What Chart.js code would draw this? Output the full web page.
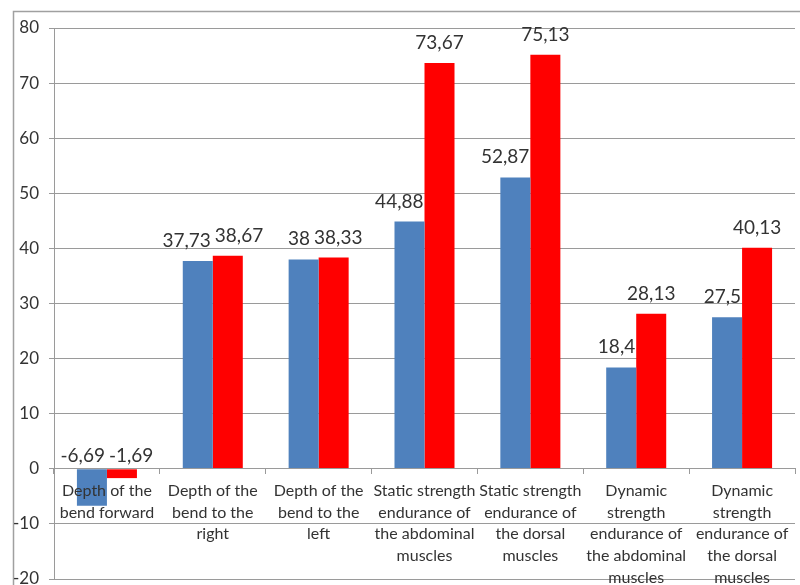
<!DOCTYPE html>
<html>
<head>
<meta charset="utf-8">
<script src="https://cdn.jsdelivr.net/npm/chart.js@4"></script>
<style>
  html, body { margin: 0; padding: 0; background: #fff; overflow: hidden; }
  #wrap { width: 800px; height: 585px; position: relative; }
</style>
</head>
<body>
<div id="wrap"><canvas id="c"></canvas></div>
<script>
// Test categories (multi-line labels)
const categories = [
  ['Depth of the', 'bend forward'],
  ['Depth of the', 'bend to the', 'right'],
  ['Depth of the', 'bend to the', 'left'],
  ['Static strength', 'endurance of', 'the abdominal', 'muscles'],
  ['Static strength', 'endurance of', 'the dorsal', 'muscles'],
  ['Dynamic', 'strength', 'endurance of', 'the abdominal', 'muscles'],
  ['Dynamic', 'strength', 'endurance of', 'the dorsal', 'muscles']
];

// Two measurement series
const seriesBlue = [-6.69, 37.73, 38, 44.88, 52.87, 18.4, 27.5];
const seriesRed  = [-1.69, 38.67, 38.33, 73.67, 75.13, 28.13, 40.13];

// Value axis
const yMin = -20;
const yMax = 80;
const yStep = 10;

const FONT = 'Lato, "Open Sans", sans-serif';
const TEXT = '#333333';
const GRID = '#9a9a9a';

function fmt(v) {
  return String(v).replace('.', ',');
}

// Thin frame around the whole chart
const framePlugin = {
  id: 'frame',
  beforeDraw(chart) {
    const ctx = chart.ctx;
    ctx.save();
    ctx.strokeStyle = '#a0a0a0';
    ctx.lineWidth = 1.5;
    ctx.strokeRect(13.5, 11.5, 900, 900);
    ctx.restore();
  }
};

// Value labels above each bar, nudged sideways so they don't collide
const valueLabels = {
  id: 'valueLabels',
  afterDatasetsDraw(chart) {
    const ctx = chart.ctx;
    const y = chart.scales.y;
    const m0 = chart.getDatasetMeta(0);
    const m1 = chart.getDatasetMeta(1);
    const CAP = 14;
    const PAD = 4;
    ctx.save();
    ctx.font = '19px ' + FONT;
    ctx.fillStyle = TEXT;
    ctx.textAlign = 'center';
    ctx.textBaseline = 'alphabetic';
    for (let i = 0; i < categories.length; i++) {
      const b = m0.data[i], r = m1.data[i];
      const v0 = seriesBlue[i], v1 = seriesRed[i];
      const t0 = fmt(v0), t1 = fmt(v1);
      const w0 = ctx.measureText(t0).width;
      const w1 = ctx.measureText(t1).width;
      const top0 = y.getPixelForValue(Math.max(v0, 0));
      const top1 = y.getPixelForValue(Math.max(v1, 0));
      const base0 = top0 - (v0 < 0 ? 7 : 14);
      const base1 = top1 - (v1 < 0 ? 7 : 14);
      let c0 = b.x, c1 = r.x;
      if (top1 < base0) c0 = Math.min(c0, r.x - r.width / 2 - 1 - w0 / 2);
      if (top0 < base1) c1 = Math.max(c1, b.x + b.width / 2 + 1 + w1 / 2);
      if (Math.abs(base0 - base1) < CAP) {
        const ov = (c0 + w0 / 2 + PAD) - (c1 - w1 / 2);
        if (ov > 0) { c0 -= ov / 2; c1 += ov / 2; }
      }
      ctx.fillText(t0, c0, base0);
      ctx.fillText(t1, c1, base1);
    }
    ctx.restore();
  }
};

new Chart(document.getElementById('c'), {
  type: 'bar',
  data: {
    labels: categories,
    datasets: [
      { data: seriesBlue, backgroundColor: '#4f81bd', borderWidth: 0 },
      { data: seriesRed, backgroundColor: '#ff0000', borderWidth: 0 }
    ]
  },
  options: {
    responsive: true,
    maintainAspectRatio: false,
    animation: false,
    events: [],
    layout: { padding: { top: 28, bottom: 6, left: 0, right: 5 } },
    datasets: { bar: { categoryPercentage: 0.567, barPercentage: 1 } },
    plugins: {
      legend: { display: false },
      title: { display: false },
      tooltip: { enabled: false }
    },
    scales: {
      x: {
        type: 'category',
        position: { y: 0 },
        grid: {
          drawOnChartArea: false,
          drawTicks: true,
          tickLength: 5,
          color: GRID,
          offset: true
        },
        border: { display: true, color: GRID, width: 1, z: 1 },
        ticks: {
          z: 1,
          color: TEXT,
          font: { family: FONT, size: 16, lineHeight: 1.36 },
          padding: 6,
          maxRotation: 0,
          minRotation: 0,
          autoSkip: false
        },
        afterFit(scale) {
          scale.paddingLeft = 0;
          scale.paddingRight = 0;
        }
      },
      y: {
        min: yMin,
        max: yMax,
        ticks: {
          stepSize: yStep,
          color: TEXT,
          font: { family: FONT, size: 17 },
          padding: 10
        },
        grid: { color: GRID, lineWidth: 1, tickLength: 5, drawTicks: true },
        border: { display: true, color: GRID, width: 1 },
        afterFit(scale) {
          scale.width = 54;
          scale.paddingTop = 0;
          scale.paddingBottom = 0;
        }
      }
    }
  },
  plugins: [framePlugin, valueLabels]
});
</script>
</body>
</html>
